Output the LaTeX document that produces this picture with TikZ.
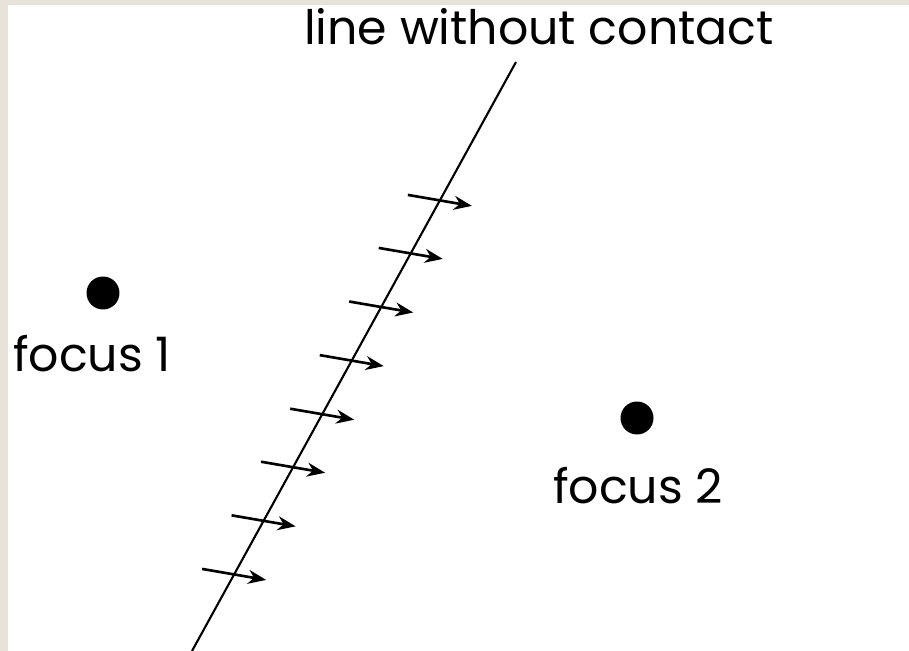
\documentclass[tikz,border=0pt]{standalone}
\usepackage{fontspec}
\setmainfont{Poppins}
\usetikzlibrary{arrows.meta,calc,positioning}
\definecolor{frame}{HTML}{E7E2DA}
\tikzset{
  wire/.style      = {line width=1.2pt},
  flow/.style      = {-{Stealth[length=3.6mm,width=2.8mm]}, line width=1.5pt},
  focus dot/.style = {circle, fill=black, inner sep=0pt, minimum size=6.6mm},
  lbl/.style       = {font=\fontsize{27}{32}\selectfont, inner sep=0pt},
}

\begin{document}
\begin{tikzpicture}[x=0.02cm,y=-0.02cm]
  % ---------------- frame --------------------------------------------------
  \fill[frame] (0,0) rectangle (909,651);
  \fill[white] (8,5) rectangle (909,651);
  \useasboundingbox (0,0) rectangle (909,651);

  % ---------------- the line and its arrows --------------------------------
  \coordinate (lbot) at (192,651);
  \coordinate (ltop) at (516,62);
  \draw[wire] (lbot) -- (ltop);
  \node[lbl,anchor=base] (ltitle) at (539,45) {line without contact};
  \foreach \t in {0.130,0.221,0.312,0.402,0.493,0.584,0.675,0.765}
    \draw[flow] ($(lbot)!\t!(ltop)+(-32,-5.5)$) -- ++(64,11);

  % ---------------- foci ---------------------------------------------------
  \node[focus dot] (focus1) at (103,293) {};
  \node[lbl,anchor=base] (flabel1) at (92,372) {focus 1};
  \node[focus dot] (focus2) at (637,418) {};
  \node[lbl,anchor=base] (flabel2) at (638,503) {focus 2};
\end{tikzpicture}
\end{document}
